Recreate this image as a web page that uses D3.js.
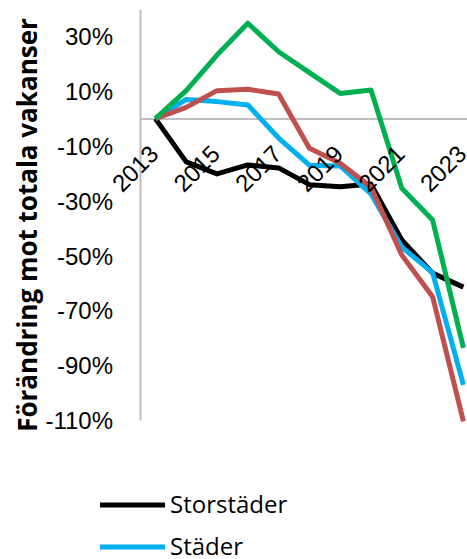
<!DOCTYPE html>
<html lang="sv">
<head>
<meta charset="utf-8">
<script src="https://cdn.jsdelivr.net/npm/d3@7"></script>
<style>
  html, body { margin: 0; padding: 0; background: #fff; overflow: hidden; }
  svg { display: block; font-family: "Open Sans", "Noto Sans", sans-serif; }
</style>
</head>
<body>
<svg id="chart" width="467" height="559"></svg>
<script>
// Years on the category axis
const years = [2013, 2014, 2015, 2016, 2017, 2018, 2019, 2020, 2021, 2022, 2023];
// Years that carry a tick label
const labelYears = [2013, 2015, 2017, 2019, 2021, 2023];
// Percentage ticks on the value axis
const yTicks = [-110, -90, -70, -50, -30, -10, 10, 30];

// Change in total vacancies since 2013, in percent
const storstader = [0, -15.8, -20.2, -16.9, -18.0, -24.1, -24.9, -23.9, -44.3, -56.4, -61.5];
const stader     = [0, 7.0, 6.2, 5.0, -7.1, -17.0, -17.3, -27.5, -46.9, -56.2, -97.2];
const serie3     = [0, 4.1, 10.2, 10.7, 9.0, -10.8, -16.3, -25.0, -49.8, -65.0, -110.5];
const serie4     = [0, 10.2, 23.2, 34.8, 24.4, 16.8, 9.2, 10.4, -25.4, -37.0, -83.7];

// Legend entries (the first two series)
const legendNames = ["Storstäder", "Städer"];

const seriesValues = [storstader, stader, serie3, serie4];
const seriesColors = ["#000000", "#00B0F0", "#C0504D", "#00B050"];

const svg = d3.select("#chart");

const axisX0 = 140, plotTop = 9, plotBottom = 420;
const step = 30.8;

const x = d3.scalePoint()
  .domain(years)
  .range([axisX0, axisX0 + step * years.length])
  .padding(0.5);

const y = d3.scaleLinear()
  .domain([-110, 40])
  .range([plotBottom, plotTop]);

const under = svg.append("g");   // axis lines sit beneath the series
const plot = svg.append("g");
const over = svg.append("g");    // tick labels sit above the series

// Value axis
const yAxisG = over.append("g")
  .attr("transform", `translate(${axisX0},0)`)
  .call(d3.axisLeft(y).tickValues(yTicks).tickSize(0).tickPadding(0)
    .tickFormat(d => d + "%"));
yAxisG.selectAll("text")
  .attr("x", -27)
  .attr("dy", "0.35em")
  .attr("fill", "#000")
  .style("font-size", "24px");

// Category axis, crossing at 0 %
const xAxisG = over.append("g")
  .attr("transform", `translate(0,${y(0)})`)
  .call(d3.axisBottom(x).tickValues(labelYears).tickSize(0).tickPadding(0));
xAxisG.selectAll(".tick text")
  .attr("y", 0)
  .attr("dy", 0)
  .attr("text-anchor", "end")
  .attr("fill", "#000")
  .style("font-size", "24px")
  .attr("transform", "translate(4,37) rotate(-45)");

// Move the two axis lines below the series
[yAxisG, xAxisG].forEach(g => {
  const dom = g.select(".domain")
    .attr("stroke", "#BFBFBF")
    .attr("stroke-width", 2)
    .attr("fill", "none");
  under.node().appendChild(dom.node());
  dom.attr("transform", g.attr("transform"));
});

// Series lines
const line = d3.line()
  .x((d, i) => x(years[i]))
  .y(d => y(d));

plot.selectAll("path.series")
  .data(seriesValues)
  .join("path")
  .attr("class", "series")
  .attr("d", line)
  .attr("fill", "none")
  .attr("stroke", (d, i) => seriesColors[i])
  .attr("stroke-width", 5)
  .attr("stroke-linejoin", "round")
  .attr("stroke-linecap", "butt");

// Value axis title
svg.append("text")
  .attr("transform", `translate(37,225) rotate(-90)`)
  .attr("text-anchor", "middle")
  .attr("fill", "#000")
  .style("font-size", "26px")
  .style("font-weight", "bold")
  .text("Förändring mot totala vakanser");

// Legend
const legend = svg.append("g");
const item = legend.selectAll("g")
  .data(legendNames)
  .join("g")
  .attr("transform", (d, i) => `translate(100,${505 + i * 42})`);
item.append("line")
  .attr("x1", 0).attr("x2", 65)
  .attr("stroke", (d, i) => seriesColors[i])
  .attr("stroke-width", 5);
item.append("text")
  .attr("x", 70)
  .attr("dy", "0.35em")
  .attr("fill", "#000")
  .style("font-size", "24px")
  .text(d => d);
</script>
</body>
</html>
